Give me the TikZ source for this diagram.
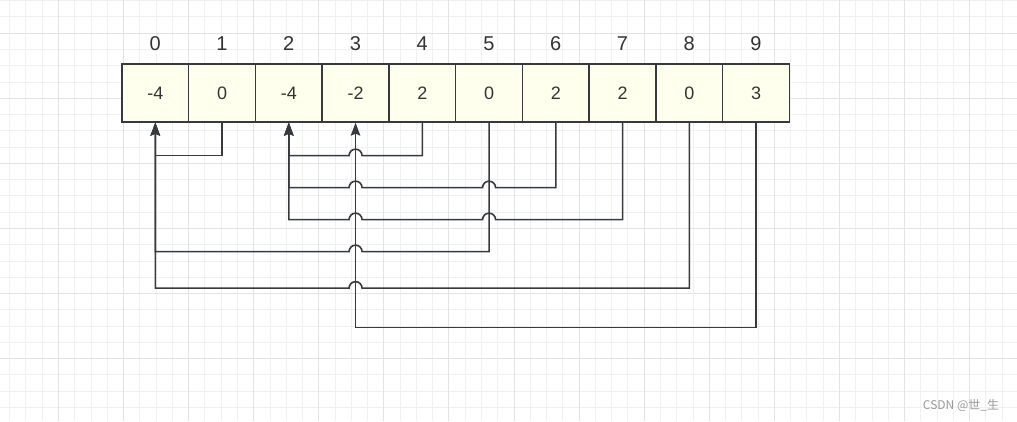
\documentclass[tikz,border=0pt]{standalone}
\usepackage{fontspec}
\setmainfont{Liberation Sans}
\newfontfamily\cjk{Noto Sans CJK SC}
\usetikzlibrary{arrows.meta}
\definecolor{ln}{HTML}{36393D}
\definecolor{bx}{HTML}{FFFFEE}
\definecolor{gminor}{HTML}{F0F0F0}
\definecolor{gmajor}{HTML}{E3E3E3}
\definecolor{txt}{HTML}{333333}
\definecolor{wmc}{HTML}{999999}
\begin{document}
\begin{tikzpicture}[x=1pt,y=-1pt,
  cell/.style={draw=ln,fill=bx,line width=1.6pt,minimum width=66.75pt,minimum height=57.7pt,inner sep=0pt,text=txt,font=\fontsize{18}{18}\selectfont},
  idx/.style={inner sep=0pt,text=txt,font=\fontsize{20}{20}\selectfont},
  wire/.style={draw=ln,line width=1.6pt},
  arr/.style={-{Stealth[length=13pt,width=9.5pt,inset=2pt]}},
  hop/.style={},
]
\useasboundingbox (0,0) rectangle (1017,421);
\fill[white] (0,0) rectangle (1017,421);
% grid
\foreach \i in {0,...,62} {\draw[gminor,line width=1pt] ({9.7+16.27*\i},0) -- ({9.7+16.27*\i},421);}
\foreach \k in {0,...,25} {\draw[gminor,line width=1pt] (0,{0.7+16.27*\k}) -- (1017,{0.7+16.27*\k});}
\foreach \i in {3,7,...,63} {\draw[gmajor,line width=1pt] ({9.7+16.27*\i},0) -- ({9.7+16.27*\i},421);}
\foreach \k in {2,6,...,26} {\draw[gmajor,line width=1pt] (0,{0.7+16.27*\k}) -- (1017,{0.7+16.27*\k});}
% cells
\foreach \v [count=\i from 0] in {-4,0,-4,-2,2,0,2,2,0,3} {
  \node[cell] (b\i) at ({155.3+66.75*\i},93) {\v};
  \node[idx] (l\i) at ({155.3+66.75*\i},44) {\i};
}
% connectors
\draw[wire,arr] (b1.south) -- ++(0,33) -| (b0.south);
\draw[wire,arr] (b4.south) -- ++(0,33) -- ++(-60.25,0) arc[start angle=0,end angle=180,radius=6.5pt] -| (b2.south);
\draw[wire,arr] (b6.south) -- ++(0,65) -- ++(-60.25,0) arc[start angle=0,end angle=180,radius=6.5pt] -- ++(-120.5,0) arc[start angle=0,end angle=180,radius=6.5pt] -| (b2.south);
\draw[wire,arr] (b7.south) -- ++(0,97) -- ++(-127,0) arc[start angle=0,end angle=180,radius=6.5pt] -- ++(-120.5,0) arc[start angle=0,end angle=180,radius=6.5pt] -| (b2.south);
\draw[wire,arr] (b5.south) -- ++(0,129) -- ++(-127,0) arc[start angle=0,end angle=180,radius=6.5pt] -| (b0.south);
\draw[wire,arr] (b8.south) -- ++(0,165.5) -- ++(-327.25,0) arc[start angle=0,end angle=180,radius=6.5pt] -| (b0.south);
\draw[wire,arr] (b9.south) -- ++(0,205) -| (b3.south);
% watermark
\node[text=wmc,font=\cjk\fontsize{12}{12}\selectfont,inner sep=0pt] (wm) at (961,405) {CSDN @世\_生};
\end{tikzpicture}
\end{document}
